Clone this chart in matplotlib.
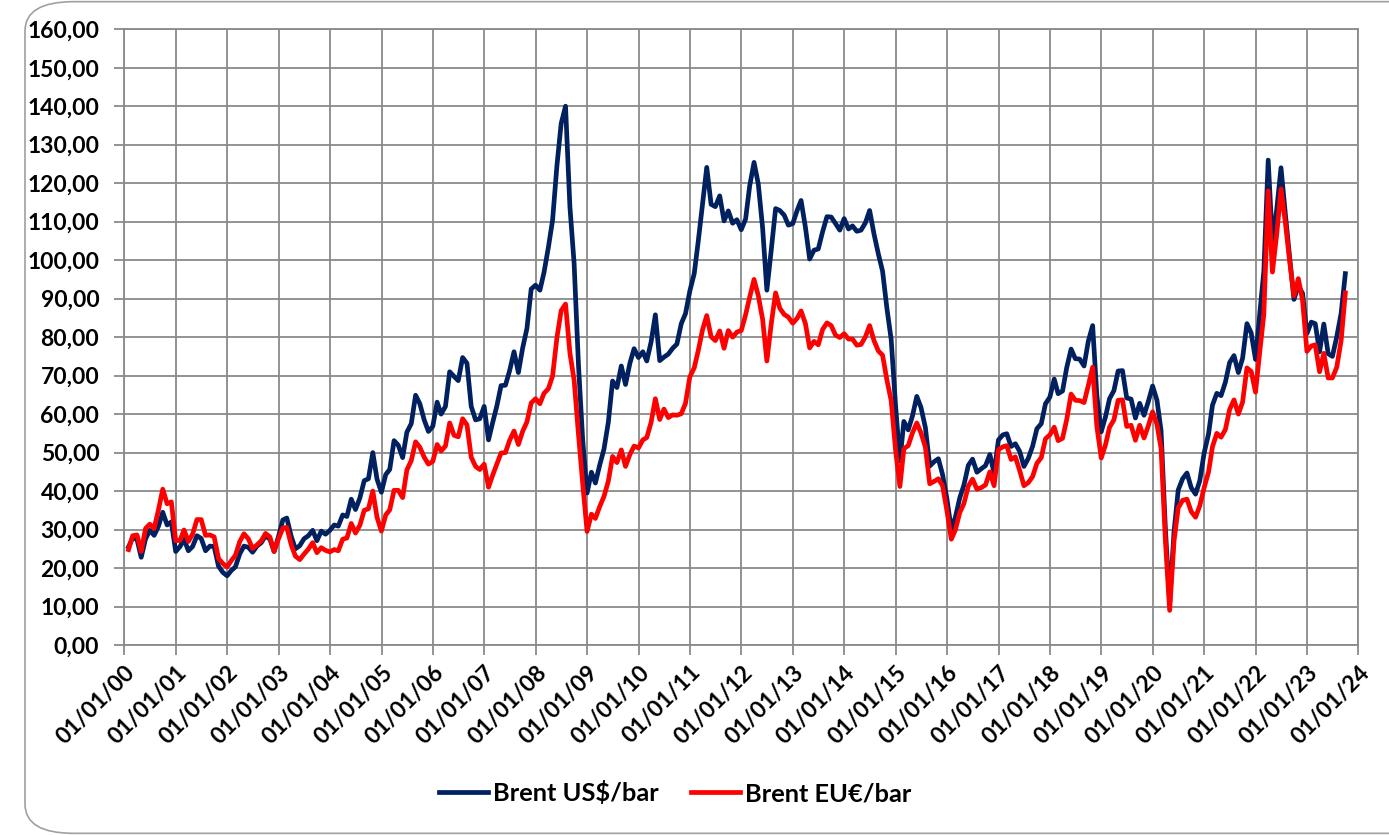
import numpy as np
import pandas as pd
import matplotlib
matplotlib.use("Agg")
import matplotlib.pyplot as plt
import matplotlib.dates as mdates
from matplotlib.patches import FancyBboxPatch

plt.rcParams['font.family'] = ['Lato', 'DejaVu Sans']

# month-end Brent prices, Jan 2000 - Sep 2023
brent_usd = [
    25.5, 27.8, 27.5, 22.8, 27.6, 29.8, 28.5, 30.9, 34.5, 31.2, 32.0, 24.3,  # 2000
    25.6, 27.5, 24.5, 25.6, 28.4, 27.7, 24.5, 25.7, 25.6, 20.5, 18.9, 18.0,  # 2001
    19.4, 20.3, 23.7, 25.7, 25.4, 24.1, 25.7, 26.6, 28.4, 27.5, 24.3, 28.2,  # 2002
    32.5, 33.0, 28.3, 25.0, 25.8, 27.6, 28.4, 29.8, 27.1, 29.6, 28.8, 29.8,  # 2003
    31.2, 30.9, 33.8, 33.4, 37.9, 35.2, 38.2, 42.7, 43.2, 50.0, 43.1, 39.7,  # 2004
    44.3, 45.6, 53.1, 51.9, 48.7, 55.3, 57.5, 64.9, 62.7, 58.5, 55.5, 56.8,  # 2005
    63.1, 60.0, 62.0, 71.0, 69.8, 68.7, 74.7, 73.2, 62.0, 58.5, 58.8, 62.0,  # 2006
    53.3, 57.6, 62.1, 67.4, 67.5, 71.3, 76.2, 70.8, 77.1, 82.3, 92.5, 93.5,  # 2007
    92.2, 96.8, 103.3, 110.4, 124.6, 135.5, 140.0, 113.9, 99.1, 72.7, 53.2, 39.5,  # 2008
    44.9, 42.1, 46.8, 50.9, 57.9, 68.6, 66.9, 72.5, 67.7, 73.2, 77.0, 74.7,  # 2009
    76.2, 73.8, 78.8, 85.8, 73.9, 74.8, 75.6, 77.1, 78.2, 83.5, 86.1, 92.0,  # 2010
    96.5, 104.7, 114.6, 124.1, 114.5, 113.9, 116.7, 110.2, 112.8, 109.6, 110.5, 107.9,  # 2011
    110.7, 119.3, 125.4, 119.8, 108.3, 92.2, 102.6, 113.4, 112.9, 111.7, 109.1, 109.5,  # 2012
    112.9, 115.5, 108.5, 100.3, 102.6, 102.9, 107.4, 111.3, 111.2, 109.5, 107.8, 110.8,  # 2013
    108.1, 108.9, 107.5, 107.8, 109.7, 112.9, 106.8, 101.6, 97.1, 87.4, 79.4, 62.3,  # 2014
    47.8, 58.1, 55.9, 59.5, 64.6, 61.7, 56.5, 46.5, 47.6, 48.4, 44.3, 38.0,  # 2015
    30.0, 33.2, 38.2, 41.6, 46.7, 48.3, 44.9, 45.8, 46.6, 49.5, 44.7, 53.3,  # 2016
    54.6, 54.9, 51.6, 52.3, 50.3, 46.4, 48.5, 51.7, 56.2, 57.5, 62.7, 64.4,  # 2017
    69.1, 65.3, 66.0, 72.1, 76.9, 74.4, 74.3, 72.5, 78.9, 83.0, 64.8, 55.4,  # 2018
    59.4, 64.0, 66.1, 71.2, 71.3, 64.2, 63.9, 59.0, 62.8, 59.7, 63.2, 67.3,  # 2019
    63.6, 55.7, 30.0, 11.0, 29.4, 40.3, 43.2, 44.7, 40.9, 39.2, 42.7, 49.9,  # 2020
    54.8, 62.3, 65.4, 64.8, 68.3, 73.4, 75.2, 70.8, 74.5, 83.5, 81.1, 74.2,  # 2021
    86.5, 97.1, 126.0, 104.6, 113.3, 124.0, 111.9, 100.5, 89.8, 93.3, 91.4, 80.9,  # 2022
    83.9, 83.5, 76.2, 83.4, 75.7, 75.0, 80.1, 86.2, 96.5,  # 2023
]

brent_eur = [
    24.8, 28.4, 28.6, 24.3, 30.3, 31.4, 30.3, 35.2, 40.5, 36.7, 37.2, 27.1,  # 2000
    27.2, 29.9, 26.9, 28.8, 32.6, 32.6, 28.5, 28.6, 28.1, 22.5, 21.2, 20.3,  # 2001
    22.0, 23.3, 26.9, 28.9, 27.6, 25.1, 26.0, 27.1, 29.0, 28.1, 24.3, 27.6,  # 2002
    30.4, 30.6, 26.1, 23.1, 22.2, 23.6, 24.9, 26.6, 24.0, 25.3, 24.6, 24.2,  # 2003
    24.8, 24.5, 27.5, 27.8, 31.6, 29.1, 31.1, 35.0, 35.4, 40.0, 33.2, 29.6,  # 2004
    33.8, 35.1, 40.2, 40.2, 38.3, 45.5, 47.9, 52.8, 51.4, 48.8, 47.0, 47.7,  # 2005
    52.1, 50.4, 51.7, 57.7, 54.5, 54.1, 58.8, 57.2, 48.8, 46.4, 45.6, 47.0,  # 2006
    41.0, 44.0, 47.0, 49.9, 50.0, 53.2, 55.6, 52.1, 55.5, 58.0, 62.9, 64.0,  # 2007
    62.7, 65.4, 66.6, 69.9, 79.9, 86.9, 88.6, 75.9, 68.8, 54.7, 41.9, 29.5,  # 2008
    34.0, 32.9, 36.0, 38.6, 42.6, 49.0, 47.4, 50.7, 46.4, 49.5, 51.7, 51.2,  # 2009
    53.3, 53.9, 57.9, 64.0, 58.6, 61.3, 59.1, 59.8, 59.7, 60.1, 62.8, 69.7,  # 2010
    72.0, 76.4, 81.9, 85.6, 80.1, 79.1, 81.6, 77.1, 81.7, 80.0, 81.3, 81.7,  # 2011
    85.8, 90.4, 95.0, 90.8, 84.6, 73.8, 83.4, 91.5, 87.5, 85.9, 85.2, 83.6,  # 2012
    84.9, 86.8, 83.5, 77.2, 78.9, 78.0, 82.0, 83.7, 83.0, 80.5, 79.9, 80.9,  # 2013
    79.5, 79.5, 77.9, 78.1, 80.1, 83.0, 79.1, 76.4, 75.3, 68.8, 63.5, 50.7,  # 2014
    41.2, 51.0, 51.8, 55.1, 57.7, 55.1, 51.4, 41.9, 42.5, 43.2, 41.4, 34.9,  # 2015
    27.5, 29.9, 34.4, 36.8, 41.3, 43.1, 40.5, 40.9, 41.6, 45.0, 41.4, 50.8,  # 2016
    51.5, 51.8, 48.2, 48.9, 45.3, 41.4, 42.2, 43.8, 47.2, 48.7, 53.6, 54.6,  # 2017
    56.6, 53.1, 53.7, 58.6, 65.2, 63.6, 63.5, 63.0, 67.4, 72.2, 56.8, 48.6,  # 2018
    52.1, 56.6, 58.5, 63.6, 63.7, 56.8, 57.1, 53.2, 57.1, 53.8, 56.9, 60.6,  # 2019
    57.3, 51.1, 27.0, 9.0, 27.0, 35.7, 37.6, 37.9, 34.7, 33.2, 36.2, 40.9,  # 2020
    44.9, 51.5, 55.0, 54.0, 56.0, 61.2, 63.7, 60.0, 63.1, 72.0, 71.1, 65.7,  # 2021
    76.5, 85.9, 118.0, 96.9, 106.9, 118.5, 109.7, 99.5, 90.7, 95.2, 89.6, 76.3,  # 2022
    77.7, 78.0, 71.0, 75.8, 69.4, 69.4, 72.2, 79.1, 91.5,  # 2023
]

dates = pd.date_range("2000-01-31", periods=len(brent_usd), freq="ME")
year_ticks = pd.date_range("2000-01-01", "2024-01-01", freq="YS")
y_ticks = np.arange(0, 161, 10)

navy = "#002060"
red = "#FF0000"
grid_col = "#8a8a8a"

fig = plt.figure(figsize=(13.89, 8.35), dpi=100)
ax = fig.add_axes([0.0895, 0.2275, 0.8885, 0.7375])

ax.plot(dates, brent_usd, color=navy, lw=3.4, label="Brent US$/bar")
ax.plot(dates, brent_eur, color=red, lw=3.4, label="Brent EU€/bar")

ax.set_xlim(year_ticks[0], year_ticks[-1])
ax.set_ylim(0, 160)
ax.set_xticks(year_ticks)
ax.xaxis.set_major_formatter(mdates.DateFormatter("%d/%m/%y"))
ax.set_yticks(y_ticks)
ax.set_yticklabels([f"{v:.2f}".replace(".", ",") for v in y_ticks])

ax.grid(True, color=grid_col, lw=1.3)
ax.set_axisbelow(True)
for s in ax.spines.values():
    s.set_color(grid_col)
    s.set_linewidth(1.3)
ax.tick_params(axis="both", color=grid_col, width=1.3, length=7, labelsize=16.5)
ax.tick_params(axis="y", pad=11)
ax.tick_params(axis="x", pad=5)
for lab in ax.get_xticklabels():
    lab.set_rotation(45)
    lab.set_ha("right")
    lab.set_rotation_mode("anchor")
    lab.set_fontweight("bold")
for lab in ax.get_yticklabels():
    lab.set_fontweight("bold")

fig.legend(loc="center", bbox_to_anchor=(0.486, 0.05), ncol=2, frameon=False,
           prop={"size": 18.3, "weight": "bold"}, handlelength=1.9,
           handletextpad=0.2, columnspacing=1.3)

border = FancyBboxPatch((0.018, 0.002), 1.2, 0.996, transform=fig.transFigure,
                        boxstyle="round,pad=0,rounding_size=0.035",
                        fc="none", ec="#a0a0a0", lw=1.2, clip_on=False)
fig.patches.append(border)

fig.savefig("out.png", dpi=100)
